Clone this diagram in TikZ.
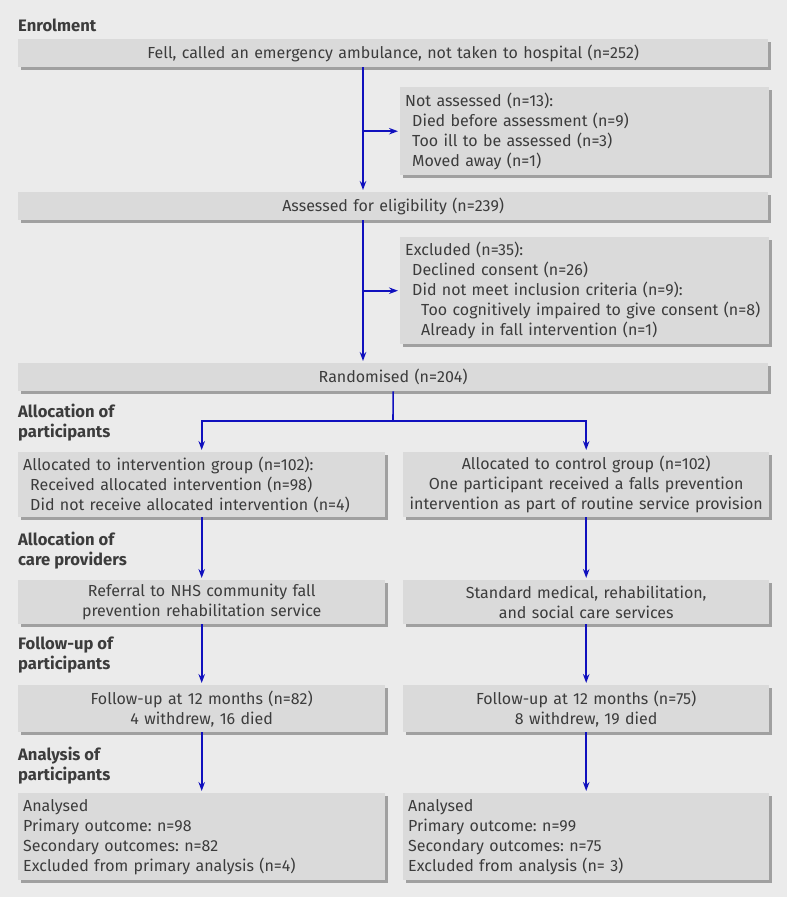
\documentclass[tikz,border=0pt]{standalone}
\usepackage{fontspec}
\setmainfont{Fira Sans}
\usetikzlibrary{shadows, arrows.meta}
\hyphenpenalty=10000
\exhyphenpenalty=10000
\frenchspacing

\definecolor{pagegray}{RGB}{235,235,235}
\definecolor{boxgray}{RGB}{218,218,218}
\definecolor{shadowgray}{RGB}{160,160,160}
\definecolor{textgray}{RGB}{60,60,60}
\definecolor{arrowblue}{RGB}{16,16,190}

\tikzstyle{box} = [
    rectangle,
    fill=boxgray,
    general shadow={fill=shadowgray, shadow xshift=3pt, shadow yshift=-3pt},
    anchor=north west,
    inner xsep=5pt,
    inner ysep=0pt,
    text=textgray,
    font=\fontsize{16}{20}\selectfont
]
\tikzstyle{widebox} = [
    box,
    text width=740pt,
    minimum height=28pt,
    align=center
]
\tikzstyle{sidebox} = [
    box,
    text width=359pt,
    align=left
]
\tikzstyle{halfbox} = [
    box,
    inner xsep=4pt,
    text width=358pt,
    align=center
]
\tikzstyle{heading} = [
    anchor=west,
    align=left,
    inner sep=0pt,
    text=textgray,
    font=\bfseries\fontsize{16.6}{20}\selectfont
]
\tikzstyle{line} = [line width=1.6pt, draw=arrowblue]
\tikzstyle{arrow} = [line, -{Stealth[length=9pt,width=6.5pt]}, shorten >=2pt]

\begin{document}
\begin{tikzpicture}[x=1pt, y=-1pt]

\fill [pagegray] (0,0) rectangle (787,897);
\useasboundingbox (0,0) rectangle (787,897);

% headings
\node (henrol) [heading] at (18,25) {Enrolment};
\node (halloc) [heading] at (18,423) {Allocation of\\participants};
\node (hcare) [heading] at (18,551) {Allocation of\\care providers};
\node (hfollow) [heading] at (18,655) {Follow-up of\\participants};
\node (hanalysis) [heading] at (18,766) {Analysis of\\participants};

% enrolment
\node (fell) [widebox] at (18,39)
{Fell, called an emergency ambulance, not taken to hospital (n=252)};

\node (notassessed) [sidebox, minimum height=88pt] at (400,87)
{Not assessed (n=13):\\
\hspace*{7pt}Died before assessment (n=9)\\
\hspace*{7pt}Too ill to be assessed (n=3)\\
\hspace*{7pt}Moved away (n=1)};

\node (assessed) [widebox] at (18,192) {Assessed for eligibility (n=239)};

\node (excluded) [sidebox, minimum height=107pt] at (400,237)
{Excluded (n=35):\\
\hspace*{7pt}Declined consent (n=26)\\
\hspace*{7pt}Did not meet inclusion criteria (n=9):\\
\hspace*{16pt}Too cognitively impaired to give consent (n=8)\\
\hspace*{16pt}Already in fall intervention (n=1)};

\node (random) [widebox] at (18,363) {Randomised (n=204)};

% allocation
\node (interv) [sidebox, text width=357pt, minimum height=65pt] at (18,452)
{Allocated to intervention group (n=102):\\
\hspace*{7pt}Received allocated intervention (n=98)\\
\hspace*{7pt}Did not receive allocated intervention (n=4)};

\node (control) [halfbox, minimum height=65pt] at (403,452)
{Allocated to control group (n=102)\\
One participant received a falls prevention\\
intervention as part of routine service provision};

\node (referral) [halfbox, text width=359pt, minimum height=44pt] at (18,580)
{Referral to NHS community fall\\prevention rehabilitation service};

\node (standard) [halfbox, minimum height=44pt] at (403,580)
{Standard medical, rehabilitation,\\and social care services};

% follow-up
\node (followi) [halfbox, text width=359pt, minimum height=47pt] at (18,685)
{Follow-up at 12 months (n=82)\\4 withdrew, 16 died};

\node (followc) [halfbox, minimum height=47pt] at (403,685)
{Follow-up at 12 months (n=75)\\8 withdrew, 19 died};

% analysis
\node (analysedi) [sidebox, text width=357pt, minimum height=87pt] at (18,793)
{Analysed\\
Primary outcome: n=98\\
Secondary outcomes: n=82\\
Excluded from primary analysis (n=4)};

\node (analysedc) [sidebox, text width=356pt, minimum height=87pt] at (403,793)
{Analysed\\
Primary outcome: n=99\\
Secondary outcomes: n=75\\
Excluded from analysis (n= 3)};

\coordinate (spine) at (363,0);
\coordinate (split) at (393,421);

\draw [arrow] (fell.south -| spine) -- (assessed.north -| spine);
\draw [arrow] (notassessed.west -| spine) -- (notassessed.west);
\draw [arrow] (assessed.south -| spine) -- (random.north -| spine);
\draw [arrow] (excluded.west -| spine) -- (excluded.west);
\draw [line] (random.south) -- (split);
\draw [arrow] (split) -| (interv.north);
\draw [arrow] (split) -| (control.north);
\draw [arrow] (interv) -- (referral);
\draw [arrow] (control) -- (standard);
\draw [arrow] (referral) -- (followi);
\draw [arrow] (standard) -- (followc);
\draw [arrow] (followi) -- (analysedi);
\draw [arrow] (followc) -- (analysedc);

\end{tikzpicture}
\end{document}
